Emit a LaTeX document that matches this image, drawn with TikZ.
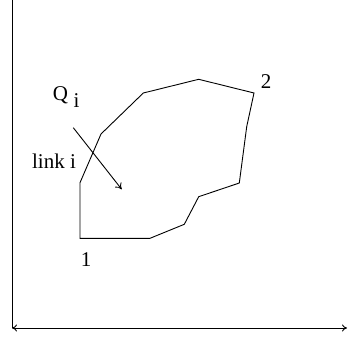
\documentclass[tikz,border=0pt]{standalone}
\usepackage{fontspec}
\setmainfont{Liberation Serif}
\usetikzlibrary{arrows.meta}
\begin{document}
\begin{tikzpicture}[x=1pt,y=-1pt,
  lbl/.style={inner sep=0pt,font=\fontsize{21}{23}\selectfont},
  ln/.style={line width=0.9pt,line join=miter}]
\useasboundingbox (0,0) rectangle (348,343);
% axes
\coordinate (top) at (12,0);
\coordinate (orig) at (12,328);
\coordinate (xend) at (347,328);
\draw[ln] (top) -- (orig);
\draw[ln,{To[length=5pt,width=7pt]}-{To[length=5pt,width=7pt]}] (orig) -- (xend);
% polygon
\coordinate (p1) at (80,238.3);
\coordinate (p2) at (150,238.3);
\coordinate (p3) at (184.3,224.3);
\coordinate (p4) at (198.7,196.7);
\coordinate (p5) at (239.3,183);
\coordinate (p6) at (246.7,126.7);
\coordinate (p7) at (254,93);
\coordinate (p8) at (198.7,79.3);
\coordinate (p9) at (143.3,93);
\coordinate (p10) at (101,134);
\coordinate (p11) at (80,182.7);
\draw[ln] (p1) -- (p2) -- (p3) -- (p4) -- (p5) -- (p6) -- (p7) -- (p8) -- (p9) -- (p10) -- (p11) -- cycle;
% arrow Q_i
\coordinate (qs) at (73.3,127.7);
\coordinate (qe) at (121.7,189.3);
\draw[ln,-{To[length=6pt,width=8pt]}] (qs) -- (qe);
% labels
\node[lbl] (Q) at (60.5,95) {Q};
\node[lbl] (Qi) at (76.5,100.5) {i};
\node[lbl] (link) at (54,161) {link i};
\node[lbl] (one) at (86,260) {1};
\node[lbl] (two) at (266,82) {2};
\end{tikzpicture}
\end{document}
